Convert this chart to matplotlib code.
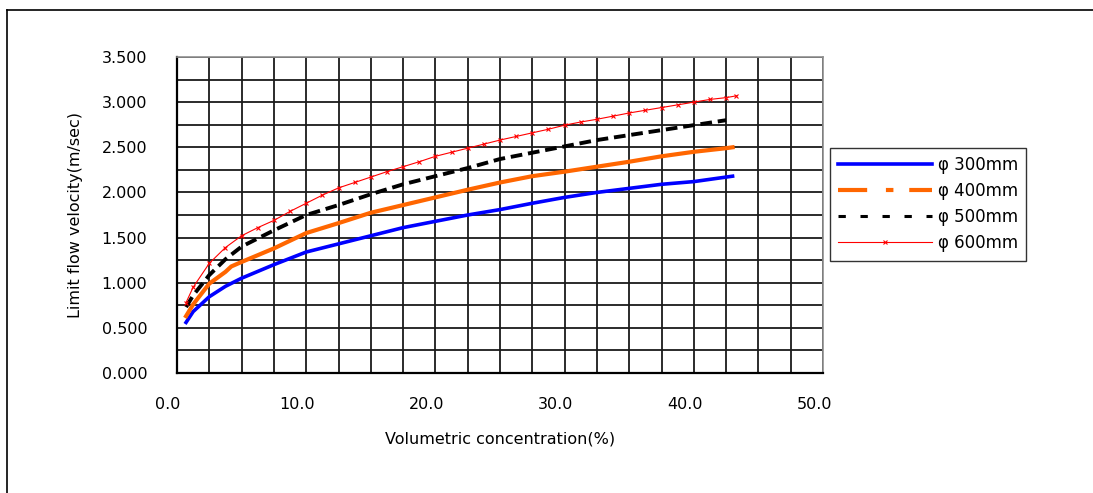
import matplotlib
matplotlib.use("Agg")
import matplotlib.pyplot as plt
from matplotlib.lines import Line2D
from matplotlib.ticker import FixedLocator, MultipleLocator
import matplotlib.transforms as mtransforms

# ---- data ----
x_300 = [0.7, 1.25, 2.5, 3.75, 5, 7.5, 10, 12.5, 15, 17.5, 20, 22.5, 25, 27.5, 30, 32.5, 35, 37.5, 40, 42.5, 43.0]
v_300 = [0.56, 0.68, 0.845, 0.96, 1.05, 1.20, 1.34, 1.43, 1.52, 1.61, 1.68, 1.75, 1.81, 1.88, 1.945, 2.0, 2.045, 2.09, 2.12, 2.17, 2.18]

x_400 = [0.7, 1.25, 2.5, 3.75, 4.2, 5, 7.5, 10, 12.5, 15, 17.5, 20, 22.5, 25, 27.5, 30, 32.5, 35, 37.5, 40, 42.5, 43.0]
v_400 = [0.63, 0.76, 0.99, 1.12, 1.18, 1.23, 1.38, 1.55, 1.66, 1.775, 1.86, 1.945, 2.03, 2.11, 2.18, 2.23, 2.285, 2.34, 2.40, 2.45, 2.49, 2.50]

x_500 = [0.7, 1.25, 2.5, 3.75, 5, 7.5, 10, 12.5, 15, 17.5, 20, 22.5, 25, 27.5, 30, 32.5, 35, 37.5, 40, 42.5]
v_500 = [0.73, 0.86, 1.085, 1.26, 1.40, 1.58, 1.75, 1.86, 1.98, 2.09, 2.18, 2.27, 2.37, 2.44, 2.51, 2.58, 2.635, 2.69, 2.745, 2.80]

x_600 = [0.7, 1.25, 2.5, 3.75, 5, 6.25, 7.5, 8.75, 10, 11.25, 12.5, 13.75, 15, 16.25, 17.5, 18.75, 20, 21.25,
         22.5, 23.75, 25, 26.25, 27.5, 28.75, 30, 31.25, 32.5, 33.75, 35, 36.25, 37.5, 38.75, 40, 41.25, 42.5, 43.3]
v_600 = [0.78, 0.95, 1.215, 1.39, 1.52, 1.61, 1.69, 1.79, 1.88, 1.97, 2.05, 2.11, 2.17, 2.23, 2.285, 2.34, 2.40, 2.445,
         2.49, 2.535, 2.58, 2.62, 2.66, 2.70, 2.745, 2.78, 2.81, 2.845, 2.88, 2.91, 2.94, 2.97, 3.0, 3.03, 3.05, 3.07]

series_labels = ["φ 300mm", "φ 400mm", "φ 500mm", "φ 600mm"]
x_ticks = [0, 10, 20, 30, 40, 50]
x_ticklabels = ["0.0", "10.0", "20.0", "30.0", "40.0", "50.0"]
y_ticks = [0, 0.5, 1.0, 1.5, 2.0, 2.5, 3.0, 3.5]
y_ticklabels = ["0.000", "0.500", "1.000", "1.500", "2.000", "2.500", "3.000", "3.500"]

FS = 11.5

fig = plt.figure(figsize=(10.93, 4.93), dpi=100)
ax = fig.add_axes([177/1093, 120/493, 646/1093, 316/493])

ax.plot(x_300, v_300, color="#0000ff", lw=2.6, solid_joinstyle="round", zorder=3)
ax.plot(x_400, v_400, color="#ff6600", lw=3.0, solid_joinstyle="round", zorder=3)
ax.plot(x_500, v_500, color="black", lw=2.8, linestyle=(0, (3.0, 1.5)), zorder=3)
ax.plot(x_600, v_600, color="#ff0000", lw=0.8, marker="x", markersize=3.5, markeredgewidth=0.8, zorder=4)

ax.set_xlim(0, 50)
ax.set_ylim(0, 3.5)
ax.xaxis.set_major_locator(FixedLocator(x_ticks))
ax.yaxis.set_major_locator(FixedLocator(y_ticks))
ax.xaxis.set_minor_locator(MultipleLocator(2.5))
ax.yaxis.set_minor_locator(MultipleLocator(0.25))
ax.set_xticklabels(x_ticklabels)
ax.set_yticklabels(y_ticklabels)
ax.tick_params(which="both", length=0)
ax.tick_params(axis="y", pad=21.5, labelsize=FS)
ax.tick_params(axis="x", pad=17, labelsize=FS)
for lab in ax.get_xticklabels():
    lab.set_transform(lab.get_transform() + mtransforms.ScaledTranslation(-9/100, 0, fig.dpi_scale_trans))

ax.grid(True, which="both", color="#1a1a1a", lw=1.3)
ax.set_axisbelow(True)
for s in ["left", "bottom"]:
    ax.spines[s].set_color("black")
    ax.spines[s].set_linewidth(1.6)
for s in ["top", "right"]:
    ax.spines[s].set_color("#909090")
    ax.spines[s].set_linewidth(1.2)

ax.set_xlabel("Volumetric concentration(%)", fontsize=FS, labelpad=14)
ax.set_ylabel("Limit flow velocity(m/sec)", fontsize=FS, labelpad=13)

handles = [
    Line2D([], [], color="#0000ff", lw=2.6),
    Line2D([], [], color="#ff6600", lw=3.0, linestyle=(0, (7, 4.5, 1.8, 3.8))),
    Line2D([], [], color="black", lw=2.2, linestyle=(0, (2.4, 4.8))),
    Line2D([], [], color="#ff0000", lw=0.8, marker="x", markersize=3.5, markeredgewidth=0.8),
]
leg = fig.legend(handles, series_labels, loc="upper left", bbox_to_anchor=(830/1093, 1 - 148/493),
                 bbox_transform=fig.transFigure, borderaxespad=0, fontsize=12, handlelength=5.6,
                 labelspacing=0.48, fancybox=False, frameon=True, borderpad=0.5,
                 handletextpad=0.35)
leg.get_frame().set_edgecolor("black")
leg.get_frame().set_linewidth(1.0)

# outer border: top and left edges
fig.add_artist(Line2D([7/1093, 1.0], [1 - 10/493, 1 - 10/493], transform=fig.transFigure, color="black", lw=1.2))
fig.add_artist(Line2D([7/1093, 7/1093], [0, 1 - 10/493], transform=fig.transFigure, color="black", lw=1.2))

fig.savefig("out.png", dpi=100, facecolor="white")
